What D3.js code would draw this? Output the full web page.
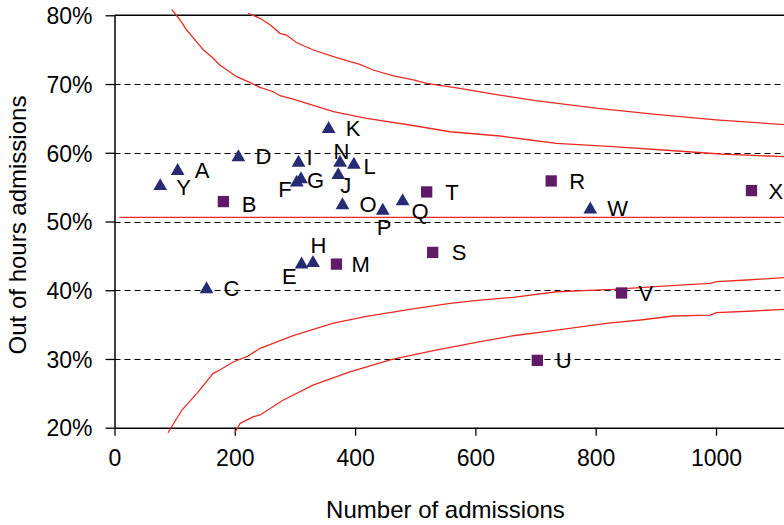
<!DOCTYPE html>
<html>
<head>
<meta charset="utf-8">
<script src="https://cdn.jsdelivr.net/npm/d3@7"></script>
<style>
  html, body { margin: 0; padding: 0; background: #fff; }
  svg { display: block; }
  text { font-family: "Liberation Sans", Arial, sans-serif; fill: #000; }
</style>
</head>
<body>
<svg id="chart" width="784" height="525"></svg>
<script>
// Units: letters, number of admissions, share out of hours (%)
const unitNames   = ["A","B","C","D","E","F","G","H","I","J","K","L","M","N","O","P","Q","R","S","T","U","V","W","X","Y"];
const admissions  = [105,181,153,206,311,303,310,330,306,372,356,398,369,375,379,446,479,726,529,519,703,843,791,1059,76];
const outOfHours  = [57.5,52.9,40.3,59.5,43.9,55.8,56.3,44.1,58.7,56.9,63.6,58.4,43.8,58.7,52.5,51.7,53.1,55.9,45.5,54.3,29.8,39.6,51.9,54.5,55.3];
const unitShape   = ["tri","sq","tri","tri","tri","tri","tri","tri","tri","tri","tri","tri","sq","tri","tri","tri","tri","sq","sq","sq","sq","sq","tri","sq","tri"];

// Overall rate and funnel limits (n, %)
const centreRate  = 50.6;
const centreSpan  = [8, 1200];
const innerUpperN = [95,109,120,134,148,164,175,203,222,242,264,275,297,364,419,491,558,641,691,735,829,912,1007,1113];
const innerUpperV = [80.87,79.32,77.86,76.40,74.95,73.74,72.77,71.07,70.34,69.52,68.88,68.30,67.82,65.97,65.01,64.04,63.06,62.44,61.86,61.38,60.88,60.40,59.82,59.43];
const outerUpperN = [222,242,259,275,286,303,331,364,392,408,430,464,497,519,574,640,700,800,900,1000,1113];
const outerUpperV = [80.29,79.56,78.59,77.38,77.13,76.01,74.95,73.98,73.25,72.87,72.04,71.17,70.59,70.11,69.38,68.4,67.6,66.5,65.6,64.8,64.1];
const innerLowerN = [89,112,137,164,175,198,220,242,297,364,419,491,558,608,663,735,829,912,990,1001,1051,1113];
const innerLowerV = [19.27,22.57,25.0,27.91,28.39,29.60,30.33,31.55,33.4,35.2,36.2,37.2,38.1,38.57,38.97,39.78,40.13,40.61,41.0,41.24,41.49,41.82];
const outerLowerN = [200,209,231,242,280,330,390,460,530,608,663,735,818,874,929,990,1001,1062,1113];
const outerLowerV = [19.27,20.64,21.60,21.85,24.0,26.2,28.1,29.9,31.2,32.51,33.38,34.21,35.19,35.67,36.25,36.39,36.73,36.98,37.22];

// Axis ticks
const xTickValues = [0,200,400,600,800,1000];
const yTickValues = [20,30,40,50,60,70,80];
const gridValues  = [30,40,50,60,70];

// Label placement tweaks (dx, dy in px; anchor)
const labelNudge = {
  Y: [16, 2], B: [18.5, 2], E: [-5, 12.5, "end"], F: [-5, 7.5, "end"],
  H: [-2.5, -17], I: [8, -5], G: [6, 2], N: [-6.5, -11], L: [9.5, 2],
  J: [2, 11], P: [-6, 16.7], Q: [9, 11], M: [15, 0], T: [18.5, 0],
  S: [19, 0], R: [18, 0], U: [18.5, 0]
};

const svg = d3.select("#chart");
const x = d3.scaleLinear().domain([0, 1200]).range([114.5, 836.3]);
const y = d3.scaleLinear().domain([20, 80]).range([427.7, 15.3]);

const RED = "#ea2b24";

// Dashed gridlines
svg.append("g").selectAll("line").data(gridValues).join("line")
  .attr("x1", x(0)).attr("x2", 784)
  .attr("y1", d => Math.round(y(d)) + 0.5).attr("y2", d => Math.round(y(d)) + 0.5)
  .attr("stroke", "#000").attr("stroke-width", 1.2)
  .attr("stroke-dasharray", "6,4");

// Plot frame: top border
svg.append("line")
  .attr("x1", x(0)).attr("x2", 784)
  .attr("y1", y(80)).attr("y2", y(80))
  .attr("stroke", "#000").attr("stroke-width", 1.5);

// Axes
const xAxis = d3.axisBottom(x).tickValues(xTickValues).tickSize(8).tickPadding(14)
  .tickFormat(d3.format("d"));
const gx = svg.append("g").attr("transform", `translate(0,${y(20)})`).call(xAxis);
gx.select(".domain").attr("d", `M${x(0)},0.5H784`).attr("stroke-width", 1.5);
gx.selectAll(".tick line").attr("stroke-width", 1.3);
gx.selectAll(".tick text").style("font-size", "23px").attr("dy", "0.71em");

const yAxis = d3.axisLeft(y).tickValues(yTickValues).tickSize(9).tickPadding(13)
  .tickFormat(d => d + "%");
const gy = svg.append("g").attr("transform", `translate(${x(0)},0)`).call(yAxis);
gy.select(".domain").attr("d", `M0.5,${y(80)}V${y(20)}`).attr("stroke-width", 1.5);
gy.selectAll(".tick line").attr("stroke-width", 1.3);
gy.selectAll(".tick text").style("font-size", "23px").attr("dy", "0.36em");
svg.selectAll(".tick text").style("fill", "#000").style("font-family", "'Liberation Sans', Arial, sans-serif");

// Funnel limits
const line = d3.line().x(d => x(d[0])).y(d => y(d[1]));
const limits = [
  d3.zip(innerUpperN, innerUpperV),
  d3.zip(outerUpperN, outerUpperV),
  d3.zip(innerLowerN, innerLowerV),
  d3.zip(outerLowerN, outerLowerV),
  centreSpan.map(n => [n, centreRate])
];
svg.append("g").selectAll("path").data(limits).join("path")
  .attr("d", line).attr("fill", "none")
  .attr("stroke", RED).attr("stroke-width", 1.3);

// Units
const units = unitNames.map((name, i) => ({
  name, n: admissions[i], v: outOfHours[i], shape: unitShape[i]
}));
const triPath = d3.symbol(d3.symbolTriangle, 82)();
const sqPath  = d3.symbol(d3.symbolSquare, 128)();

svg.append("g").selectAll("path").data(units).join("path")
  .attr("transform", d => `translate(${x(d.n)},${y(d.v) + (d.shape === "tri" ? 1 : 0)})`)
  .attr("d", d => d.shape === "tri" ? triPath : sqPath)
  .attr("fill", d => d.shape === "tri" ? "#262b73" : "#611b66");

svg.append("g").selectAll("text").data(units).join("text")
  .attr("x", d => x(d.n) + (labelNudge[d.name] ? labelNudge[d.name][0] : 17))
  .attr("y", d => y(d.v) + (labelNudge[d.name] ? labelNudge[d.name][1] : 0) + 8)
  .attr("text-anchor", d => (labelNudge[d.name] && labelNudge[d.name][2]) || "start")
  .style("font-size", "22px")
  .text(d => d.name);

// Axis titles
svg.append("text")
  .attr("x", 445.5).attr("y", 518)
  .attr("text-anchor", "middle")
  .style("font-size", "24px")
  .text("Number of admissions");

svg.append("text")
  .attr("transform", "translate(25.5,225) rotate(-90)")
  .attr("text-anchor", "middle")
  .style("font-size", "24px")
  .text("Out of hours admissions");
</script>
</body>
</html>
